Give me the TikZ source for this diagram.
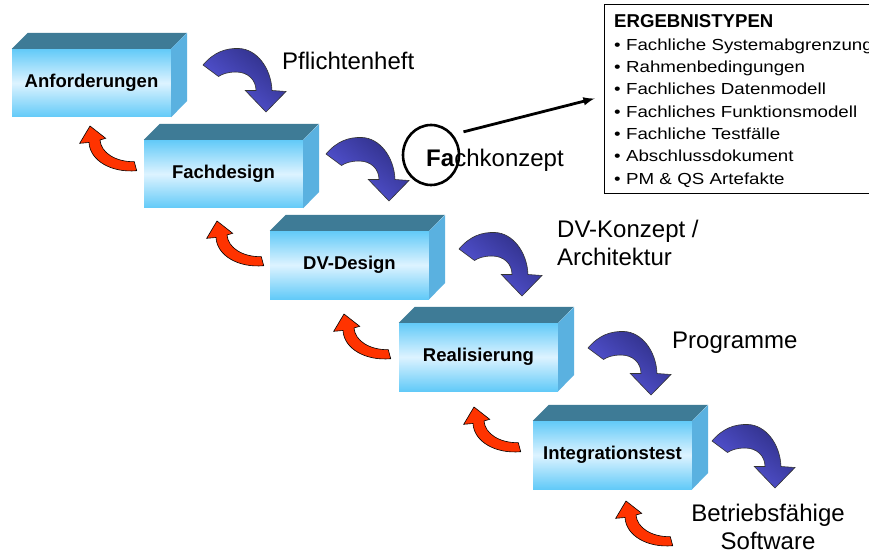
\documentclass[tikz,border=0pt]{standalone}
\usepackage{fontspec}
\setmainfont{Liberation Sans}
\newfontfamily\listfont[FakeStretch=1.17]{Liberation Sans}
\usetikzlibrary{arrows, shapes.geometric}

\definecolor{boxsky}{HTML}{62CAF8}
\definecolor{boxpale}{HTML}{DDF3FF}
\definecolor{boxtop}{HTML}{3E7B96}
\definecolor{boxside}{HTML}{5AB1E0}
\definecolor{flowlight}{HTML}{5A5AE2}
\definecolor{flowdark}{HTML}{2F2F86}
\definecolor{backred}{HTML}{FF3300}

\begin{document}
\begin{tikzpicture}[x=1pt, y=-1pt, >=latex,
	phase/.style={minimum width=159pt, minimum height=68pt, inner sep=0pt, top color=boxsky, bottom color=boxsky, middle color=boxpale, font=\fontsize{18.5}{22}\selectfont\bfseries},
	note/.style={inner sep=0pt, font=\fontsize{24}{28}\selectfont},
	fwdshape/.style={draw=black!80, line width=0.6pt, top color=flowdark, bottom color=flowlight, shading angle=-40},
	backshape/.style={draw=black, line width=0.6pt, fill=backred},
	fwd/.pic={\path[fwdshape] (-63,-47) .. controls (-52,-60) and (-40,-64) .. (-27,-63.5) .. controls (-10,-63) and (5,-45) .. (6,-21.5) -- (20,-20.5) -- (0,0) -- (-20.7,-21.5) -- (-10,-21.5) .. controls (-10,-32) and (-18,-40) .. (-30,-40) .. controls (-38,-40) and (-44,-38) .. (-47.5,-35.5) -- cycle;},
	back/.pic={\path[backshape] (-1,16.5) -- (-10.3,17.3) -- (0,0) -- (15.7,12.3) -- (10,14) .. controls (11,27) and (26,36) .. (44.3,35.7) -- (46.7,44.7) .. controls (22,47) and (0,35) .. (-1,16.5) -- cycle;}]

\useasboundingbox[fill=white] (0,0) rectangle (869,553);

% phases
\foreach \nm/\cx/\cy/\txt in {anf/91.5/83/Anforderungen, fach/223.5/174/Fachdesign, dv/349.5/265/DV-Design, real/478.5/357/Realisierung, integ/612.5/455/Integrationstest}{
	\node[phase] (\nm) at (\cx, \cy) {\txt};
	\fill[boxtop] (\nm.north west)--++(16,-16)--++(159,0)--(\nm.north east)--cycle;
	\fill[boxside] (\nm.north east)--++(16,-16)--++(0,68)--(\nm.south east)--cycle;
}

\foreach \tx/\ty in {266/112, 389/201, 522/296, 651/395, 775/488}
	\pic at (\tx, \ty) {fwd};

\foreach \tx/\ty in {90/126, 217/221, 344/314, 474/407, 626/501}
	\pic at (\tx, \ty) {back};

\node[note, anchor=base west] (pflicht) at (282, 70) {Pflichtenheft};
\node[note, anchor=base west] (fachkonz) at (426, 167) {\textbf{Fa}chkonzept};
\node[ellipse, draw, line width=2.6pt, minimum width=56pt, minimum height=60pt, inner sep=0pt] (fa) at (431, 155) {};
\node[note, anchor=base west, align=left] (dvkonz) at (557, 265) {DV-Konzept /\\Architektur};
\node[note, anchor=base west] (prog) at (672, 348) {Programme};
\node[note, anchor=base, align=center] (betrieb) at (768, 549) {Betriebsfähige\\Software};

% ergebnistypen
\node[draw, line width=0.8pt, minimum width=276pt, minimum height=189pt, inner sep=0pt] (erg) at (742, 98.5) {};
\node[anchor=base west, inner sep=0pt, text width=300pt, align=left, font=\fontsize{16}{22.3}\selectfont\listfont] (ergtext) at (614, 28) {{\fontsize{18.6}{22.3}\selectfont\normalfont\bfseries ERGEBNISTYPEN}\\
	• Fachliche Systemabgrenzung\\
	• Rahmenbedingungen\\
	• Fachliches Datenmodell\\
	• Fachliches Funktionsmodell\\
	• Fachliche Testfälle\\
	• Abschlussdokument\\
	• PM \& QS Artefakte};

\draw[->, line width=2.8pt] ([shift={(8,-6)}]fa.35)--([xshift=-9pt]erg.west);

\end{tikzpicture}
\end{document}
